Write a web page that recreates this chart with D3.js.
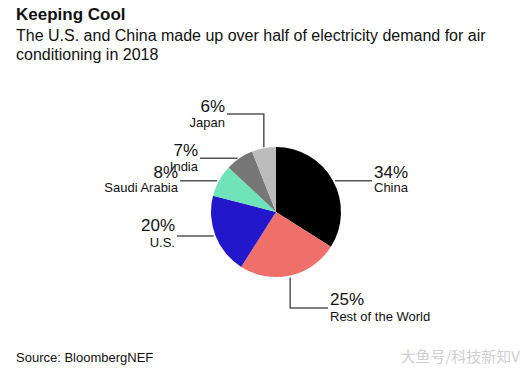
<!DOCTYPE html>
<html><head><meta charset="utf-8">
<script src="https://cdn.jsdelivr.net/npm/d3@7"></script>
<style>body{margin:0;background:#fff}svg{display:block;font-family:"Liberation Sans",Arial,Helvetica,sans-serif}</style>
</head><body><svg id="c" width="526" height="377"></svg>
<script>
const categories = ["China","Rest of the World","U.S.","Saudi Arabia","India","Japan"];
const values = [34,25,20,8,7,6];
const colors = ["#000000","#ef6f6b","#2317cb","#6fe3ba","#777777","#bcbcbc"];

const svg = d3.select("#c");
const cx = 276, cy = 212, R = 65;

svg.append("text").attr("x",16).attr("y",20).attr("font-size",17).attr("font-weight","bold").attr("fill","#111").text("Keeping Cool");
svg.append("text").attr("x",16).attr("y",41).attr("font-size",16).attr("fill","#111").text("The U.S. and China made up over half of electricity demand for air");
svg.append("text").attr("x",16).attr("y",60).attr("font-size",16).attr("fill","#111").text("conditioning in 2018");

const data = categories.map((c,i)=>({name:c,value:values[i],color:colors[i]}));
const pie = d3.pie().value(d=>d.value).sort(null);
const arcs = pie(data);
const arc = d3.arc().innerRadius(0).outerRadius(R);
const g = svg.append("g").attr("transform",`translate(${cx},${cy})`);
g.selectAll("path").data(arcs).join("path").attr("d",arc).attr("fill",d=>d.data.color);

const anchor = a => { const m=(a.startAngle+a.endAngle)/2; return [cx+Math.sin(m)*R, cy-Math.cos(m)*R]; };
const layout = {
  "China": {pts:a=>[[a[0]+2,a[1]],[372,a[1]]], tx:374, anchor:"start", py:178, ny:192},
  "Rest of the World": {pts:a=>[[a[0],a[1]+2],[a[0],308],[328,308]], tx:330, anchor:"start", py:305, ny:321},
  "U.S.": {pts:a=>[[a[0]-2,a[1]],[177,a[1]]], tx:175, anchor:"end", py:231, ny:247},
  "Saudi Arabia": {pts:a=>[[a[0]-2,a[1]],[180,a[1]]], tx:178, anchor:"end", py:178, ny:192},
  "India": {pts:a=>[[a[0]-2,a[1]],[200,a[1]]], tx:198, anchor:"end", py:156, ny:171},
  "Japan": {pts:a=>[[a[0],a[1]-1],[a[0],114],[227,114]], tx:225, anchor:"end", py:112, ny:127}
};
const line = d3.line();
arcs.forEach(a=>{
  const L = layout[a.data.name];
  const p = anchor(a);
  svg.append("path").attr("d",line(L.pts(p))).attr("fill","none").attr("stroke","#555").attr("stroke-width",1.5);
  svg.append("text").attr("x",L.tx).attr("y",L.py).attr("text-anchor",L.anchor).attr("font-size",17).attr("fill","#111").text(a.data.value+"%");
  svg.append("text").attr("x",L.tx).attr("y",L.ny).attr("text-anchor",L.anchor).attr("font-size",13).attr("fill","#111").text(a.data.name);
});

svg.append("text").attr("x",16).attr("y",362).attr("font-size",13).attr("fill","#111").text("Source: BloombergNEF");
svg.append("text").attr("x",520).attr("y",362).attr("text-anchor","end").attr("font-size",15).attr("fill","#cfcfcf").attr("font-family","Noto Sans CJK SC").text("大鱼号/科技新知V");
</script></body></html>
